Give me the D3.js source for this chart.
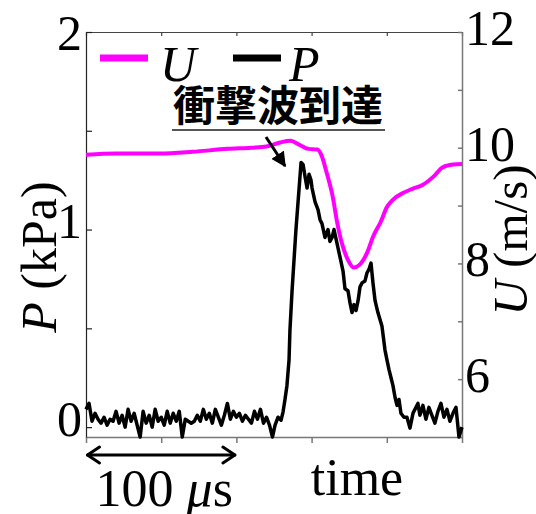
<!DOCTYPE html>
<html>
<head>
<meta charset="utf-8">
<script src="https://cdn.jsdelivr.net/npm/d3@7"></script>
<style>
  body { margin: 0; background: #fff; }
  svg text { font-family: "Liberation Serif", "Times New Roman", serif; }
</style>
</head>
<body>
<div id="chart"></div>
<script>
/////////////////////////
// data (time in microseconds)
/////////////////////////
const uTime = [0, 20, 49, 71, 94, 110, 120, 129, 136, 142, 148, 154, 157, 160, 164, 167, 170, 174, 178, 182, 187, 191, 196, 200, 204, 211, 217, 224, 231, 237, 244, 250];
const uValue = [9.88, 9.90, 9.90, 9.93, 9.98, 10.00, 10.02, 10.09, 10.12, 10.05, 9.98, 9.97, 9.84, 9.57, 9.16, 8.71, 8.36, 8.07, 7.93, 7.98, 8.19, 8.47, 8.72, 8.97, 9.10, 9.22, 9.29, 9.36, 9.50, 9.66, 9.71, 9.72];

const pTime = [0, 2, 4, 6, 8, 10, 12, 14, 16, 18, 20, 22, 24, 26, 28, 30, 32, 34, 36, 38, 40, 42, 44, 46, 48, 50, 52, 54, 56, 58, 60, 62, 64, 66, 68, 70, 72, 74, 76, 78, 80, 82, 84, 86, 88, 90, 92, 94, 96, 98, 100, 102, 104, 106, 108, 110, 112, 114, 116, 118, 120, 122, 124,
  125.7, 127.7, 129.7, 131, 132.3, 133.6, 135, 135.6, 137, 139.6, 143,
  144.3, 145.6, 147, 148.3, 149.6, 150.3, 152.3, 154.3, 155.6, 156.9, 158.9, 160.9, 162.2, 163.6, 164.9, 166.9, 168.9, 170.9, 172.2, 174.2, 175.5, 176.9, 178.2, 179.5, 180.9, 182.2, 183.5, 185.5, 186.8, 188.2, 189.5, 190.8, 192.2, 194.1, 196.8, 198.8, 200.1, 201.5, 202.8, 204.1, 205.5, 206.8, 208.1, 209.4, 211.4, 213.4, 215.4, 217.4, 219.4, 220.7,
  222, 224, 226, 228, 230, 232, 234, 236, 238, 240, 242, 244, 246, 248, 250];
const pValue = [0.09, 0.12, 0.03, 0.07, 0.04, 0.02, 0.05, 0.01, 0.04, 0.03, 0.08, 0.02, 0.06, 0.00, 0.09, 0.03, 0.07, 0.01, -0.05, 0.08, 0.02, 0.06, 0.00, 0.09, 0.03, 0.05, 0.01, 0.08, 0.02, 0.07, 0.03, 0.08, -0.05, 0.04, 0.03, 0.02, 0.03, 0.06, 0.03, 0.09, 0.04, 0.07, 0.02, 0.09, 0.05, 0.01, 0.06, 0.12, 0.04, 0.08, 0.05, 0.07, 0.03, 0.06, 0.04, 0.02, 0.08, 0.04, 0.09, 0.02, 0.05, 0.01, -0.05,
  0.01, 0.05, 0.035, 0.076, 0.14, 0.21, 0.34, 0.49, 0.69, 1.0, 1.34,
  1.33, 1.27, 1.21, 1.28, 1.25, 1.21, 1.14, 1.10, 1.05, 1.03, 0.96, 1.0, 0.94, 0.96, 1.0, 0.93, 0.86, 0.79, 0.70, 0.69, 0.63, 0.58, 0.62, 0.59, 0.64, 0.71, 0.73, 0.74, 0.78, 0.80, 0.83, 0.73, 0.64, 0.58, 0.51, 0.39, 0.34, 0.29, 0.25, 0.21, 0.15, 0.11, 0.14, 0.07, 0.05, 0.05, -0.005, 0.07, 0.10, 0.12,
  0.06, 0.11, 0.04, 0.10, 0.06, 0.02, 0.08, 0.12, 0.05, 0.09, 0.03, 0.07, 0.10, -0.05, 0.00];

const pTicks = [0, 0.5, 1, 1.5, 2];
const pLabels = [0, 1, 2];
const uTicks = [5, 6, 7, 8, 9, 10, 11, 12];
const uLabels = [6, 8, 10, 12];
const timeTicks = [0, 50, 100, 150, 200, 250];

const W = 536, H = 514;
const plotLeft = 86, plotRight = 462, plotTop = 32, plotBottom = 437;

const svg = d3.select("#chart").append("svg")
  .attr("width", W).attr("height", H);

const x = d3.scaleLinear().domain([0, 250]).range([plotLeft, plotRight]);
const yP = d3.scaleLinear().domain([-0.05, 2]).range([plotBottom, plotTop]);
const yU = d3.scaleLinear().domain([5, 12]).range([plotBottom, plotTop]);

// axes
svg.append("g")
  .attr("transform", `translate(0,${plotTop})`)
  .call(d3.axisTop(x).tickValues(timeTicks).tickSize(-4).tickSizeOuter(0).tickFormat(""))
  .call(g => g.selectAll("path,line").attr("stroke", "#444").attr("stroke-width", 1.2));

svg.append("g")
  .attr("transform", `translate(0,${plotBottom})`)
  .call(d3.axisBottom(x).tickValues(timeTicks).tickSize(6).tickSizeOuter(0).tickFormat(""))
  .call(g => g.selectAll("path,line").attr("stroke", "#777").attr("stroke-width", 1.5));

svg.append("g")
  .attr("transform", `translate(${plotLeft},0)`)
  .call(d3.axisLeft(yP).tickValues(pTicks).tickSize(-6).tickSizeOuter(0).tickPadding(4)
    .tickFormat(d => pLabels.includes(d) ? d : ""))
  .call(g => g.selectAll("path,line").attr("stroke", "#222").attr("stroke-width", 1.2))
  .call(g => g.selectAll("text").attr("font-size", 50).attr("fill", "#000")
    .attr("font-family", "Liberation Serif, serif")
    .attr("dy", d => d === 2 ? "0.34em" : "0.16em"));

svg.append("g")
  .attr("transform", `translate(${plotRight},0)`)
  .call(d3.axisRight(yU).tickValues(uTicks).tickSize(-4).tickSizeOuter(0).tickPadding(3)
    .tickFormat(d => uLabels.includes(d) ? d : ""))
  .call(g => g.selectAll("path,line").attr("stroke", "#777").attr("stroke-width", 1.5))
  .call(g => g.selectAll("text").attr("font-size", 50).attr("fill", "#000")
    .attr("font-family", "Liberation Serif, serif").attr("dy", "0.25em"));

// lines
svg.append("path")
  .datum(pTime.map((t, i) => ({t: t, v: pValue[i]})))
  .attr("fill", "none")
  .attr("stroke", "#000")
  .attr("stroke-width", 3.5)
  .attr("stroke-linejoin", "round")
  .attr("d", d3.line().x(d => x(d.t)).y(d => yP(d.v)));

svg.append("path")
  .datum(uTime.map((t, i) => ({t: t, v: uValue[i]})))
  .attr("fill", "none")
  .attr("stroke", "#ff00ff")
  .attr("stroke-width", 4)
  .attr("stroke-linejoin", "round")
  .attr("d", d3.line().curve(d3.curveMonotoneX).x(d => x(d.t)).y(d => yU(d.v)));

// axis titles
svg.append("text")
  .attr("transform", "translate(56,257) rotate(-90)")
  .attr("text-anchor", "middle")
  .attr("font-size", 50)
  .html('<tspan font-style="italic">P</tspan> (kPa)');

svg.append("text")
  .attr("transform", "translate(527,240) rotate(-90)")
  .attr("text-anchor", "middle")
  .attr("font-size", 49)
  .html('<tspan font-style="italic">U</tspan> (m/s)');

svg.append("text")
  .attr("x", 357).attr("y", 495)
  .attr("text-anchor", "middle")
  .attr("font-size", 52)
  .text("time");

// legend
const legend = svg.append("g");
legend.append("line").attr("x1", 100).attr("x2", 148).attr("y1", 58).attr("y2", 58)
  .attr("stroke", "#ff00ff").attr("stroke-width", 7);
legend.append("text").attr("x", 160).attr("y", 81).attr("font-size", 50)
  .attr("font-style", "italic").text("U");
legend.append("line").attr("x1", 233).attr("x2", 281).attr("y1", 58).attr("y2", 58)
  .attr("stroke", "#000").attr("stroke-width", 7);
legend.append("text").attr("x", 289).attr("y", 81).attr("font-size", 50)
  .attr("font-style", "italic").text("P");

// annotation
svg.append("text")
  .attr("x", 278).attr("y", 121)
  .attr("text-anchor", "middle")
  .attr("font-size", 42)
  .attr("font-weight", "bold")
  .style("font-family", "'Noto Sans CJK JP', sans-serif")
  .text("衝撃波到達");
svg.append("line").attr("x1", 172).attr("x2", 385).attr("y1", 130).attr("y2", 130)
  .attr("stroke", "#555").attr("stroke-width", 2);

const defs = svg.append("defs");
defs.append("marker").attr("id", "head")
  .attr("viewBox", "0 0 10 10").attr("refX", 9).attr("refY", 5)
  .attr("markerWidth", 5).attr("markerHeight", 5).attr("orient", "auto")
  .append("path").attr("d", "M0,0L10,5L0,10z").attr("fill", "#000");
svg.append("line").attr("x1", 266).attr("y1", 137).attr("x2", 285).attr("y2", 166)
  .attr("stroke", "#000").attr("stroke-width", 3).attr("marker-end", "url(#head)");

// 100 us scale arrow
const sy = 455;
const scaleG = svg.append("g").attr("stroke", "#000").attr("stroke-width", 3)
  .attr("fill", "none").attr("stroke-linecap", "round").attr("stroke-linejoin", "round");
scaleG.append("line").attr("x1", x(1)).attr("x2", x(99)).attr("y1", sy).attr("y2", sy);
scaleG.append("path").attr("d", `M${x(1) + 12},${sy - 8}L${x(1)},${sy}L${x(1) + 12},${sy + 8}`);
scaleG.append("path").attr("d", `M${x(99) - 12},${sy - 8}L${x(99)},${sy}L${x(99) - 12},${sy + 8}`);

svg.append("text")
  .attr("x", x(52)).attr("y", 506)
  .attr("text-anchor", "middle")
  .attr("font-size", 52)
  .html('100 <tspan font-style="italic">μ</tspan>s');
</script>
</body>
</html>
